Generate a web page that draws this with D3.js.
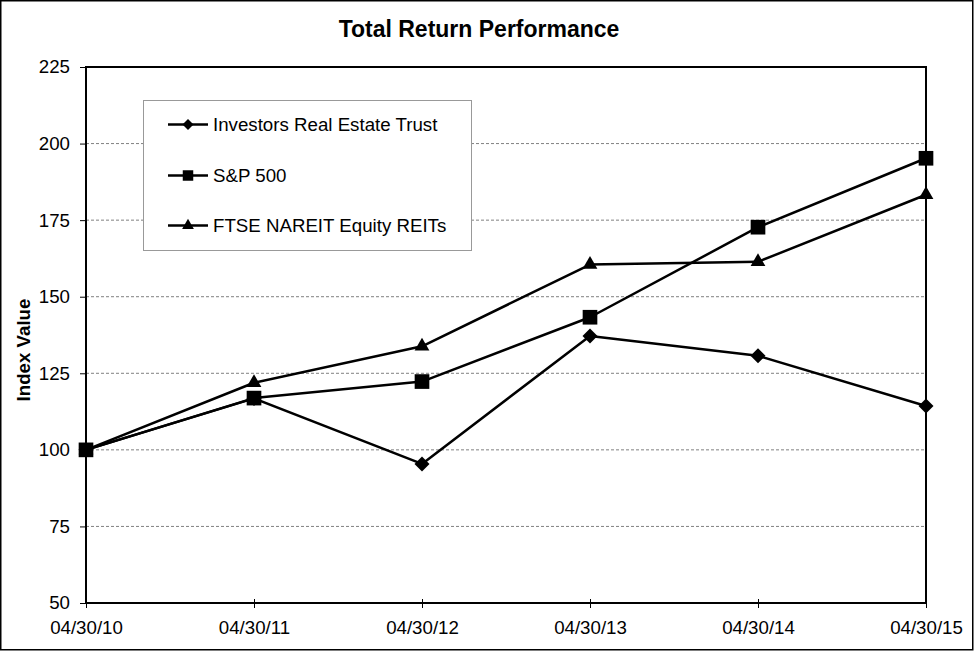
<!DOCTYPE html>
<html>
<head>
<meta charset="utf-8">
<script src="https://cdn.jsdelivr.net/npm/d3@7"></script>
<style>
  html, body { margin: 0; padding: 0; background: #fff; }
  svg { display: block; font-family: "Liberation Sans", Arial, sans-serif; }
</style>
</head>
<body>
<svg id="chart" width="975" height="651"></svg>
<script>
// ---- Data ----
const dates = ["04/30/10", "04/30/11", "04/30/12", "04/30/13", "04/30/14", "04/30/15"];
const iretValues = [100, 116.8, 95.4, 137.2, 130.7, 114.3];
const spValues = [100, 116.9, 122.3, 143.3, 172.7, 195.2];
const ftseValues = [100, 121.9, 133.8, 160.5, 161.4, 183.3];
const yTicks = [50, 75, 100, 125, 150, 175, 200, 225];
const seriesNames = ["Investors Real Estate Trust", "S&P 500", "FTSE NAREIT Equity REITs"];
const series = [
  { name: seriesNames[0], values: iretValues, marker: "diamond" },
  { name: seriesNames[1], values: spValues, marker: "square" },
  { name: seriesNames[2], values: ftseValues, marker: "triangle" }
];

// ---- Layout ----
const svg = d3.select("#chart");
const plot = { left: 86, right: 926, top: 67, bottom: 603 };

const x = d3.scalePoint().domain(dates).range([plot.left, plot.right]);
const y = d3.scaleLinear().domain([50, 225]).range([plot.bottom, plot.top]);

// outer border
svg.append("rect")
  .attr("x", 0.75).attr("y", 0.75)
  .attr("width", 972).attr("height", 649)
  .attr("fill", "#fff").attr("stroke", "#000").attr("stroke-width", 1.5);

// gridlines
svg.append("g")
  .selectAll("line")
  .data(yTicks.filter(t => t > 50 && t < 225))
  .join("line")
  .attr("x1", plot.left).attr("x2", plot.right)
  .attr("y1", d => y(d)).attr("y2", d => y(d))
  .attr("stroke", "#808080").attr("stroke-width", 1)
  .attr("stroke-dasharray", "3,2");

// Y axis
const yAxis = d3.axisLeft(y).tickValues(yTicks).tickSize(6).tickPadding(10).tickFormat(d3.format("d"));
const gy = svg.append("g").attr("transform", `translate(${plot.left},0)`).call(yAxis);
gy.select(".domain").remove();
gy.selectAll(".tick line").attr("stroke", "#000").attr("stroke-width", 1);
gy.selectAll(".tick text").attr("font-size", "18.7px").attr("fill", "#000")
  .attr("font-family", '"Liberation Sans", Arial, sans-serif');

// X axis (ticks crossing the axis)
const xAxis = d3.axisBottom(x).tickSizeInner(5).tickSizeOuter(0).tickPadding(13);
const gx = svg.append("g").attr("transform", `translate(0,${plot.bottom})`).call(xAxis);
gx.select(".domain").remove();
gx.selectAll(".tick line").attr("y1", -4).attr("y2", 5).attr("stroke", "#000").attr("stroke-width", 1);
gx.selectAll(".tick text").attr("font-size", "18.7px").attr("fill", "#000")
  .attr("font-family", '"Liberation Sans", Arial, sans-serif');

// plot frame
svg.append("rect")
  .attr("x", plot.left).attr("y", plot.top)
  .attr("width", plot.right - plot.left).attr("height", plot.bottom - plot.top)
  .attr("fill", "none").attr("stroke", "#000").attr("stroke-width", 2);

// marker shapes
function markerPath(type) {
  if (type === "diamond") return "M0,-7.5L7.5,0L0,7.5L-7.5,0Z";
  if (type === "square") return d3.symbol().type(d3.symbolSquare).size(215)();
  return d3.symbol().type(d3.symbolTriangle).size(95)();
}

// lines and markers
const line = d3.line().x((d, i) => x(dates[i])).y(d => y(d));
const gs = svg.append("g");
series.forEach(s => {
  gs.append("path")
    .attr("d", line(s.values))
    .attr("fill", "none").attr("stroke", "#000").attr("stroke-width", 2.5)
    .attr("stroke-linejoin", "round");
});
series.forEach(s => {
  gs.append("g").selectAll("path")
    .data(s.values)
    .join("path")
    .attr("d", markerPath(s.marker))
    .attr("transform", (d, i) => `translate(${x(dates[i])},${y(d)})`)
    .attr("fill", "#000");
});

// legend
const leg = svg.append("g");
leg.append("rect")
  .attr("x", 143.5).attr("y", 100.5).attr("width", 328).attr("height", 150)
  .attr("fill", "#fff").attr("stroke", "#999").attr("stroke-width", 1);
const legRowsY = [124.5, 175.5, 225.5];
series.forEach((s, i) => {
  const cy = legRowsY[i];
  leg.append("line").attr("x1", 168).attr("x2", 208).attr("y1", cy).attr("y2", cy)
    .attr("stroke", "#000").attr("stroke-width", 2.5);
  const m = s.marker === "square" ? d3.symbol().type(d3.symbolSquare).size(110)()
          : s.marker === "triangle" ? d3.symbol().type(d3.symbolTriangle).size(60)()
          : "M0,-5.5L5.5,0L0,5.5L-5.5,0Z";
  leg.append("path").attr("d", m).attr("transform", `translate(188,${cy})`).attr("fill", "#000");
  leg.append("text").attr("x", 213).attr("y", cy + 6.5)
    .attr("font-size", "18.7px").attr("fill", "#000").text(s.name);
});

// title
svg.append("text")
  .attr("x", 479).attr("y", 37)
  .attr("text-anchor", "middle")
  .attr("font-size", "23px").attr("font-weight", "bold").attr("fill", "#000")
  .text("Total Return Performance");

// y-axis title
svg.append("text")
  .attr("transform", "translate(30,350) rotate(-90)")
  .attr("text-anchor", "middle")
  .attr("font-size", "18.7px").attr("font-weight", "bold").attr("fill", "#000")
  .text("Index Value");
</script>
</body>
</html>
